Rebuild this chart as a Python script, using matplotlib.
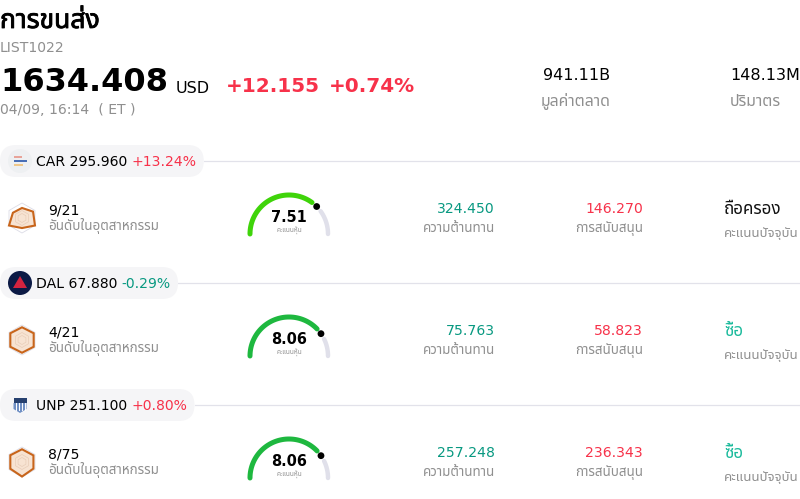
import logging
import numpy as np
import matplotlib
matplotlib.use("Agg")
import matplotlib.pyplot as plt
import matplotlib.patheffects as pe
from matplotlib.patches import Circle, FancyBboxPatch, Polygon, Rectangle

logging.getLogger("matplotlib.font_manager").setLevel(logging.ERROR)
plt.rcParams["font.family"] = ["DejaVu Sans", "Noto Sans Thai", "Sarabun", "Noto Sans"]

RED = "#f7324a"
TEAL = "#089981"
GRAY = "#8f8f8f"

title = "การขนส่ง"
list_code = "LIST1022"
price = "1634.408"
currency = "USD"
change = "+12.155"
change_pct = "+0.74%"
timestamp = "04/09, 16:14  ( ET )"
market_cap = "941.11B"
market_cap_label = "มูลค่าตลาด"
volume = "148.13M"
volume_label = "ปริมาตร"

tickers = ["CAR", "DAL", "UNP"]
last_prices = ["295.960", "67.880", "251.100"]
pct_changes = ["+13.24%", "-0.29%", "+0.80%"]
ranks = ["9/21", "4/21", "8/75"]
scores = [7.51, 8.06, 8.06]
resistances = ["324.450", "75.763", "257.248"]
supports = ["146.270", "58.823", "236.343"]
ratings = ["ถือครอง", "ซื้อ", "ซื้อ"]
radars = [
    [0.67, 0.85, 1.00, 0.67, 1.00, 0.70],
    [0.85, 0.90, 0.90, 0.85, 0.90, 0.90],
    [0.85, 0.88, 0.88, 0.97, 0.90, 0.90],
]
gauge_colors = ["#3fd40a", "#1eb83f", "#1eb83f"]
rating_colors = ["#111111", "#1dbb9d", "#1dbb9d"]

rank_label = "อันดับในอุตสาหกรรม"
gauge_label = "คะแนนหุ้น"
resistance_label = "ความต้านทาน"
support_label = "การสนับสนุน"
rating_label = "คะแนนปัจจุบัน"

fig = plt.figure(figsize=(8, 4.99), dpi=100)
ax = fig.add_axes([0, 0, 1, 1])
ax.set_xlim(0, 800)
ax.set_ylim(499, 0)
ax.axis("off")


def px(size):
    return size * 0.72


def put(x, y, s, size, color="#000000", ha="left", weight="normal", **kw):
    return ax.text(x, y, s, fontsize=px(size), color=color, ha=ha, va="center",
                   fontweight=weight, **kw)


def right_edge(t):
    box = t.get_window_extent(fig.canvas.get_renderer())
    return box.x1 * 800 / fig.bbox.width


# header
# the Thai font has no bold file, so the title gets a thin stroke instead
head = put(0, 21, title, 26.5)
head.set_path_effects([pe.withStroke(linewidth=0.6, foreground="#000000")])
put(0, 48, list_code, 14, GRAY)
put(0, 82, price, 32, weight="bold")
put(176, 88, currency, 16)
put(226, 86, change, 20, RED, weight="bold")
put(329, 86, change_pct, 20, RED, weight="bold")
put(0, 110, timestamp, 14, GRAY)
put(610, 75, market_cap, 16, ha="right")
put(610, 101, market_cap_label, 15.8, GRAY, ha="right")
put(800, 75, volume, 16, ha="right")
put(730, 101, volume_label, 15.8, GRAY)


def draw_logo(i, cy):
    if i == 0:
        ax.add_patch(Circle((20, cy), 12, fc="#eef0f2", ec="none", zorder=3))
        ax.add_patch(Rectangle((14, cy - 5), 8, 2, fc="#e8a49a", ec="none", zorder=4))
        ax.add_patch(Rectangle((14, cy - 1), 13, 2, fc="#4a6fb5", ec="none", zorder=4))
        ax.add_patch(Rectangle((14, cy + 3), 9, 2, fc="#f0c88a", ec="none", zorder=4))
    elif i == 1:
        ax.add_patch(Circle((20, cy), 12, fc="#0c1a45", ec="none", zorder=3))
        ax.add_patch(Polygon([(20, cy - 7), (27, cy + 5), (13, cy + 5)],
                             fc="#d3233f", ec="none", zorder=4))
    else:
        ax.add_patch(Rectangle((13.5, cy - 7), 13, 5, fc="#26406f", ec="none", zorder=4))
        ax.add_patch(Polygon([(13.5, cy - 2), (26.5, cy - 2), (26.5, cy + 4),
                              (20, cy + 8), (13.5, cy + 4)],
                             fc="#6f8fc4", ec="none", zorder=4))
        for dx in (16, 19, 22, 25):
            ax.plot([dx, dx], [cy - 2, cy + 5], color="#ffffff", lw=0.7, zorder=5)


def draw_radar(vals, cx, cy):
    # first value is the top corner, then clockwise (y axis points down)
    ang = np.deg2rad(-90 + np.arange(6) * 60)
    ux, uy = np.cos(ang) * 15, np.sin(ang) * 15
    for f in (1.0, 0.66, 0.4, 0.2):
        ax.add_patch(Polygon(np.c_[cx + ux * f, cy + uy * f], closed=True, fc="none",
                             ec="#dcdce6", lw=0.6, zorder=2))
    v = np.array(vals)
    ax.add_patch(Polygon(np.c_[cx + ux * v, cy + uy * v], closed=True, fc="#f7e3d2",
                         ec="#c8651b", lw=1.5, zorder=3))
    for f in (0.5, 0.3):
        ax.add_patch(Polygon(np.c_[cx + ux * f, cy + uy * f], closed=True, fc="none",
                             ec="#e8cdb8", lw=0.5, zorder=4))


def draw_gauge(score, color, cx, cy):
    r = 39
    # score 0-10 maps on to the half circle, left to right
    a = 180 * score / 10
    dark = np.deg2rad(np.linspace(180, 180 + a - 9, 60))
    rest = np.deg2rad(np.linspace(180 + a + 9, 360, 30))
    ax.plot(cx + r * np.cos(rest), cy + r * np.sin(rest), color="#e0e0ea", lw=3.2,
            solid_capstyle="round", zorder=3)
    ax.plot(cx + r * np.cos(dark), cy + r * np.sin(dark), color=color, lw=3.6,
            solid_capstyle="round", zorder=4)
    dot = np.deg2rad(180 + a)
    ax.add_patch(Circle((cx + r * np.cos(dot), cy + r * np.sin(dot)), 3.4, fc="#000000",
                        ec="none", zorder=5))
    put(cx, cy - 17, f"{score:.2f}", 14.5, ha="center", weight="bold")
    put(cx, cy - 3, gauge_label, 6.5, GRAY, ha="center")


for i in range(len(tickers)):
    off = 122 * i
    pill_y = 161 + off
    t0 = put(36, pill_y + 0.5, f"{tickers[i]} {last_prices[i]} ", 14, zorder=5)
    col = RED if pct_changes[i].startswith("+") else TEAL
    t1 = put(right_edge(t0), pill_y + 0.5, pct_changes[i], 14, col, zorder=5)
    pill_w = right_edge(t1) + 7
    ax.plot([pill_w, 800], [pill_y, pill_y], color="#e2e2ea", lw=0.9, zorder=1)
    ax.add_patch(FancyBboxPatch((0, pill_y - 16), pill_w, 32,
                                boxstyle="round,pad=0,rounding_size=16",
                                fc="#f5f5f7", ec="none", zorder=2))
    draw_logo(i, pill_y)

    draw_radar(radars[i], 22, 218 + off)
    put(48, 211 + off, ranks[i], 14)
    put(48, 226 + off, rank_label, 13.4, GRAY)

    draw_gauge(scores[i], gauge_colors[i], 289, 234 + off)

    put(495, 209 + off, resistances[i], 14, TEAL, ha="right")
    put(495, 228 + off, resistance_label, 13.4, GRAY, ha="right")
    put(643, 209 + off, supports[i], 14, RED, ha="right")
    put(643, 228 + off, support_label, 13.4, GRAY, ha="right")
    put(724, 209 + off, ratings[i], 17, rating_colors[i])
    put(724, 233 + off, rating_label, 13.2, GRAY)

fig.savefig("out.png", dpi=100)
